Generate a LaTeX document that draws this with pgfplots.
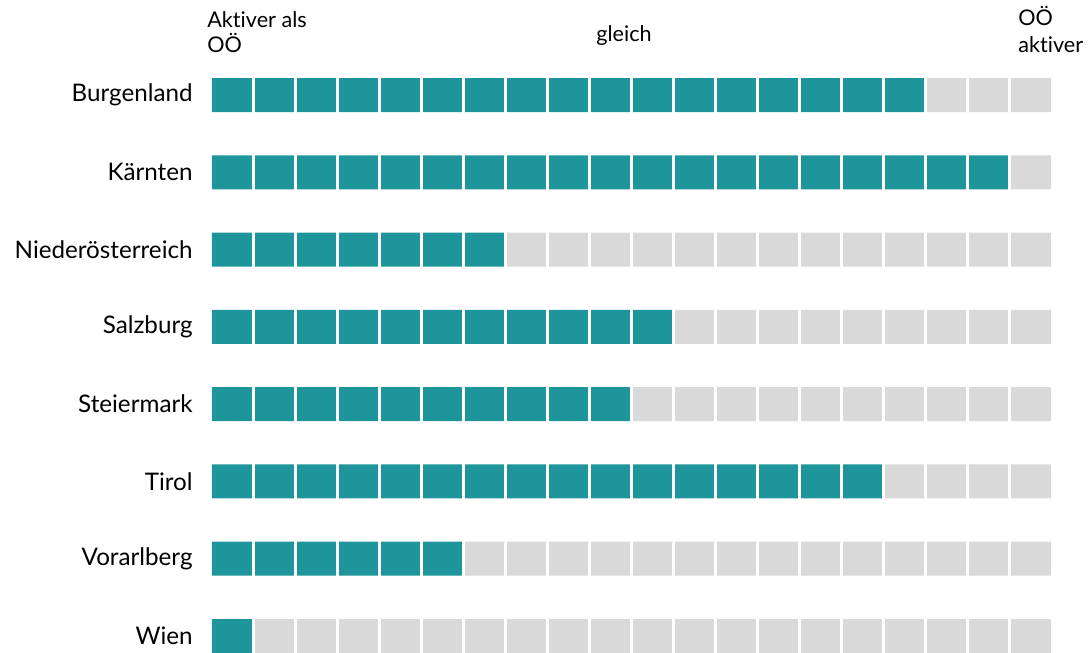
\documentclass[border=0pt]{standalone}
\usepackage{pgfplots}
\pgfplotsset{compat=1.18}
\usepackage{fontspec}
\setmainfont{Lato}[Ligatures=NoCommon]
\definecolor{teal1}{HTML}{1E959B}
\definecolor{grey1}{HTML}{D9D9D9}
\begin{document}
\begin{tikzpicture}[x=1pt,y=1pt]
\begin{axis}[
 at={(0,0)}, anchor=south west,
 scale only axis, width=419.5pt, height=298.3pt,
 xmin=0, xmax=20, ymin=0.5, ymax=8.22, y dir=reverse,
 xbar stacked, bar width=17pt,
 axis line style={draw=none},
 xtick={1,...,19}, xticklabels={}, major tick length=0pt,
 xmajorgrids, grid style={white, line width=1.5pt},
 axis on top,
 ytick={1,...,8},
 yticklabels={Burgenland,Kärnten,Niederösterreich,Salzburg,Steiermark,Tirol,Vorarlberg,Wien},
 yticklabel style={font=\fontsize{12.1}{14}\selectfont, anchor=east, inner sep=0pt, xshift=-9.5pt},
 clip=false,
]
\addplot[fill=teal1, draw=none] coordinates {(17,1) (19,2) (7,3) (11,4) (10,5) (16,6) (6,7) (1,8)};
\addplot[fill=grey1, draw=none] coordinates {(3,1) (1,2) (13,3) (9,4) (10,5) (4,6) (14,7) (19,8)};
\end{axis}
\begin{scope}[every node/.style={font=\fontsize{10.8}{13}\selectfont, inner sep=0pt}]
\node[anchor=base west] at (-2.5,312.5) {Aktiver als};
\node[anchor=base west] at (-2.5,300) {OÖ};
\node[anchor=base] at (206,305.5) {gleich};
\node[anchor=base west] at (403,313.5) {OÖ};
\node[anchor=base west] at (403,300) {aktiver};
\end{scope}
\pgfresetboundingbox
\path[use as bounding box] (-106,0) rectangle (438.5,326.5);
\end{tikzpicture}
\end{document}
